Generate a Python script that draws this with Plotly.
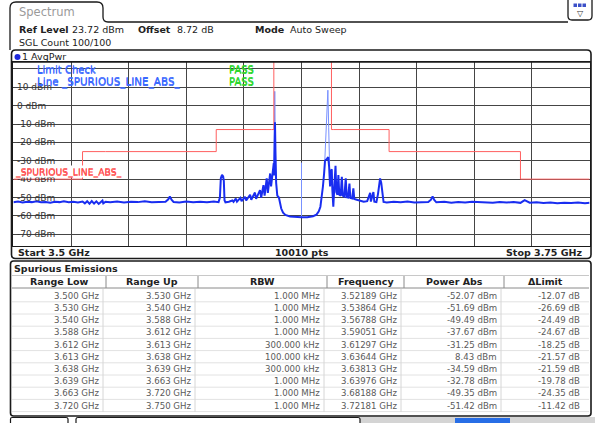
import plotly.graph_objects as go

W, H = 595, 423
FONT = "DejaVu Sans"

# ---------------- data ----------------
start_ghz = 3.5
stop_ghz = 3.75
ref_level_dbm = 23.72
bottom_dbm = -76.28
grid_dbm = [20, 10, 0, -10, -20, -30, -40, -50, -60, -70]
label_dbm = [10, 0, -10, -20, -30, -40, -50, -60, -70]

range_low_ghz = [3.500, 3.530, 3.540, 3.588, 3.612, 3.613, 3.638, 3.639, 3.663, 3.720]
range_up_ghz = [3.530, 3.540, 3.588, 3.612, 3.613, 3.638, 3.639, 3.663, 3.720, 3.750]
rbw_text = ["1.000 MHz", "1.000 MHz", "1.000 MHz", "1.000 MHz", "300.000 kHz",
            "100.000 kHz", "300.000 kHz", "1.000 MHz", "1.000 MHz", "1.000 MHz"]
peak_freq_ghz = [3.52189, 3.53864, 3.56788, 3.59051, 3.61297,
                 3.63644, 3.63813, 3.63976, 3.68188, 3.72181]
power_abs_dbm = [-52.07, -51.69, -49.49, -37.67, -31.25, 8.43, -34.59, -32.78, -49.35, -51.42]
delta_limit_db = [-12.07, -26.69, -24.49, -24.67, -18.25, -21.57, -21.59, -19.78, -24.35, -11.42]

# trace (dark part)
trace_ghz = [
    3.500, 3.502, 3.504, 3.506, 3.508, 3.510, 3.512, 3.514, 3.516, 3.518, 3.520, 3.52189, 3.524, 3.526, 3.528,
    3.530, 3.531, 3.532, 3.533, 3.534, 3.535, 3.536, 3.537, 3.53864, 3.539, 3.540,
    3.542, 3.545, 3.548, 3.551, 3.554, 3.557, 3.560, 3.563, 3.566, 3.5672, 3.56788, 3.5686, 3.5695,
    3.572, 3.575, 3.578, 3.581, 3.584, 3.587, 3.589, 3.5896, 3.5900, 3.59051, 3.5910, 3.5913, 3.5916,
    3.592, 3.5935, 3.5950, 3.5955, 3.5965, 3.5970, 3.5985, 3.5990, 3.6005, 3.6010, 3.6027, 3.6032,
    3.6048, 3.6053, 3.6070, 3.6075, 3.6085, 3.6090, 3.6099, 3.6104, 3.6114, 3.6118, 3.61297, 3.6131,
    3.6133, 3.6135, 3.6137, 3.6140, 3.6145, 3.6152, 3.6157, 3.6162, 3.6170, 3.6180, 3.6200, 3.6225,
    3.6250, 3.6275, 3.6300, 3.6315, 3.6325, 3.6332, 3.6338, 3.6343, 3.6348, 3.6352, 3.6360, 3.6366,
    3.6370, 3.6374, 3.6377, 3.63813, 3.6384, 3.6388, 3.6392, 3.63976, 3.6401, 3.6406, 3.6410, 3.6414,
    3.6420, 3.6425, 3.6429, 3.6436, 3.6442, 3.6446, 3.6452, 3.6458, 3.6462, 3.6470, 3.6475, 3.6479,
    3.6490, 3.6505, 3.6520, 3.6535, 3.6548, 3.6551, 3.6562, 3.6566, 3.6575, 3.6582, 3.6587, 3.6591,
    3.6596, 3.6601, 3.6606, 3.6620, 3.6650, 3.6680, 3.6710, 3.6740, 3.6770, 3.6800, 3.6812, 3.68188,
    3.6826, 3.6835, 3.6870, 3.6900, 3.6930, 3.6960, 3.6990, 3.7020, 3.7050, 3.7080, 3.7110, 3.7140,
    3.7170, 3.7200, 3.72181, 3.7240, 3.7270, 3.7300, 3.7330, 3.7360, 3.7390, 3.7420, 3.7450, 3.7480, 3.7500,
]
trace_dbm = [
    -52.6, -52.2, -52.7, -52.3, -52.5, -52.1, -52.6, -52.4, -52.8, -52.3, -52.5, -52.07, -52.6, -52.3, -52.7,
    -52.2, -53.2, -52.0, -53.4, -51.9, -53.3, -52.1, -53.5, -51.69, -53.2, -52.3,
    -52.6, -52.2, -52.7, -52.3, -52.5, -52.1, -52.6, -52.4, -52.3, -51.0, -49.49, -51.2, -52.4,
    -52.7, -52.2, -52.6, -52.3, -52.6, -52.2, -52.5, -50.0, -39.5, -37.67, -38.5, -41.0, -51.5,
    -52.6, -52.3, -51.6, -52.4, -50.6, -52.2, -50.2, -52.0, -49.6, -51.6, -48.5, -51.2,
    -47.3, -50.7, -46.0, -50.0, -43.3, -49.0, -39.6, -47.5, -36.9, -44.0, -31.25, -38.0,
    -20.0, -9.0, -25.0, -42.0, -49.0, -50.0, -53.0, -56.0, -58.3, -59.5, -60.3, -60.7,
    -60.8, -60.7, -60.2, -59.3, -57.5, -55.0, -50.0, -44.0, -37.0, -30.0, -29.0, -28.0,
    -33.5, -44.0, -36.0, -34.59, -46.0, -55.0, -45.0, -32.78, -47.0, -48.5, -37.8, -48.5,
    -49.0, -38.7, -49.0, -49.5, -39.6, -49.8, -50.0, -42.4, -50.2, -50.5, -45.0, -50.8,
    -51.2, -51.8, -52.3, -52.0, -47.5, -52.2, -47.0, -52.3, -52.5, -48.0, -42.0, -39.6,
    -42.0, -48.0, -52.4, -52.7, -52.3, -52.6, -52.2, -52.7, -52.4, -52.5, -51.2, -49.35,
    -51.3, -52.6, -52.3, -52.8, -52.4, -52.7, -52.3, -52.6, -52.5, -52.8, -52.4, -52.7,
    -52.5, -52.9, -51.42, -52.8, -52.6, -53.0, -52.7, -53.1, -52.8, -53.0, -52.7, -53.1, -52.9,
]
# narrow bright spikes (carriers and centre line), separated by None
spike_ghz = [3.6131, 3.6134, 3.6137, None, 3.6250, 3.6250, None, 3.6350, 3.6358, 3.63644, 3.6368, 3.6372]
spike_dbm = [-31.0, 7.8, -28.0, None, -60.5, -31.0, None, -33.0, -10.0, 8.43, -12.0, -33.0]

# limit line derived from table: limit = power - delta
limit_dbm = [p - d for p, d in zip(power_abs_dbm, delta_limit_db)]
limit_x = range_low_ghz + [range_up_ghz[-1]]
limit_y = limit_dbm + [limit_dbm[-1]]

sweep_points = 10010

# ---------------- helpers ----------------
def px(x):
    return x / W

def py(y):
    return 1 - y / H

shapes = []
annotations = []

def line(x0, y0, x1, y1, color="#1a1a1a", width=1, layer="above"):
    shapes.append(dict(type="line", xref="paper", yref="paper", x0=px(x0), y0=py(y0), x1=px(x1), y1=py(y1),
                       line=dict(color=color, width=width), layer=layer))

def rect(x0, y0, x1, y1, fill, color=None, width=0, layer="above"):
    shapes.append(dict(type="rect", xref="paper", yref="paper", x0=px(x0), y0=py(y0), x1=px(x1), y1=py(y1),
                       fillcolor=fill, line=dict(color=color or fill, width=width), layer=layer))

def path(points_cmds, color="#1a1a1a", width=1.5, fill=None, layer="above"):
    s = ""
    for cmd, pts in points_cmds:
        s += cmd
        s += " ".join(f"{px(a):.5f},{py(b):.5f}" for a, b in pts) + " "
    shapes.append(dict(type="path", xref="paper", yref="paper", path=s.strip(),
                       line=dict(color=color, width=width), fillcolor=fill, layer=layer))

def rrect(x0, y0, x1, y1, r, color="#1a1a1a", width=1.5, fill=None, layer="above"):
    path([("M", [(x0 + r, y0)]), ("L", [(x1 - r, y0)]), ("Q", [(x1, y0), (x1, y0 + r)]),
          ("L", [(x1, y1 - r)]), ("Q", [(x1, y1), (x1 - r, y1)]), ("L", [(x0 + r, y1)]),
          ("Q", [(x0, y1), (x0, y1 - r)]), ("L", [(x0, y0 + r)]), ("Q", [(x0, y0), (x0 + r, y0)]), ("Z", [])],
         color=color, width=width, fill=fill, layer=layer)

def txt(x, y, s, size=9.5, color="#222222", bold=False, xanchor="left", bg=None, shadow=None):
    font = dict(family=FONT, size=size, color=color)
    if shadow:
        font["shadow"] = shadow
    annotations.append(dict(x=px(x), y=py(y), xref="paper", yref="paper", text=f"<b>{s}</b>" if bold else s,
                            showarrow=False, xanchor=xanchor, yanchor="middle", bgcolor=bg, borderpad=0,
                            font=font))

# ---------------- plot geometry ----------------
PL, PR, PT, PB = 13.4, 589.6, 62.1, 245.8

fig = go.Figure()
fig.add_trace(go.Scatter(x=spike_ghz, y=spike_dbm, mode="lines", connectgaps=False,
                         line=dict(color="rgb(120,145,255)", width=1), hoverinfo="skip"))
fig.add_trace(go.Scatter(x=limit_x, y=limit_y, mode="lines", line_shape="hv",
                         line=dict(color="rgb(255,95,95)", width=1), hoverinfo="skip"))
fig.add_trace(go.Scatter(x=trace_ghz, y=trace_dbm, mode="lines",
                         line=dict(color="rgb(25,45,240)", width=2), hoverinfo="skip"))

# ---------------- top tab and header ----------------
path([("M", [(10, 50)]), ("L", [(10, 8)]), ("Q", [(10, 2), (16, 2)]), ("L", [(97, 2)]),
      ("Q", [(103, 2), (103, 8)]), ("L", [(103, 17)]), ("Q", [(103, 22), (108, 22)]), ("L", [(568, 22)])],
     width=1.3)
txt(18, 12, "Spectrum", size=11.5, color="#9a9a9a")
# icon box top right
path([("M", [(568, 0)]), ("L", [(568, 16)]), ("Q", [(568, 20), (572, 20)]), ("L", [(588, 20)]),
      ("Q", [(592, 20), (592, 16)]), ("L", [(592, 0)])], width=1.3)
for i in range(3):
    rect(573.5 + i * 4.5, 3.5, 577 + i * 4.5, 7, "rgb(60,80,200)")
txt(580, 13, "▽", size=8, color="#333333", xanchor="center")

txt(18, 30, "Ref Level", bold=True)
txt(71, 30, "23.72 dBm")
txt(137, 30, "Offset", bold=True)
txt(176, 30, "8.72 dB")
txt(254, 30, "Mode", bold=True)
txt(289, 30, "Auto Sweep")
txt(18, 42, "SGL Count 100/100")

# ---------------- diagram frame ----------------
rrect(11.5, 50, 591, 258.5, 4, width=1.6)
line(11.5, PT, 591, PT, width=1.2)
shapes.append(dict(type="circle", xref="paper", yref="paper", x0=px(14.5), y0=py(60), x1=px(20.5), y1=py(54),
                   fillcolor="rgb(30,40,220)", line=dict(color="rgb(30,40,220)", width=0)))
txt(21, 57, "1 AvgPwr")

# y tick labels: white boxes to interrupt grid, then text
for v in label_dbm:
    s = f"{v} dBm"
    yy = PT + (ref_level_dbm - v) / (ref_level_dbm - bottom_dbm) * (PB - PT)
    wlab = 5.1 * len(s) + 2
    shapes.append(dict(type="rect", xref="paper", yref="paper", x0=px(PL + 0.8), x1=px(16 + wlab),
                       y0=py(yy + 1.5), y1=py(yy - 1.5), fillcolor="white", line=dict(width=0), layer="between"))
    txt(16, yy, s, size=9, color="#333333")

# limit check texts
BLUE_TXT = "rgb(60,105,255)"
GREEN_TXT = "rgb(45,215,45)"
txt(36, 69.5, "Limit Check", size=10, color=BLUE_TXT, shadow=f"0px 0.6px 0px {BLUE_TXT}")
txt(36, 81.5, "Line _SPURIOUS_LINE_ABS_", size=10.4, color=BLUE_TXT,
    shadow=f"0px 0.6px 0px {BLUE_TXT}")
txt(228, 69.5, "PASS", size=10, color=GREEN_TXT, shadow=f"0px 0.6px 0px {GREEN_TXT}")
txt(228, 81.5, "PASS", size=10, color=GREEN_TXT, shadow=f"0px 0.6px 0px {GREEN_TXT}")
txt(13.5, 172.0, "_SPURIOUS_LINE_ABS_", size=9.3, color="rgb(255,80,80)", bg="white",
    shadow="0px 0.6px 0px rgb(255,80,80)")

# bottom bar of diagram
txt(17, 252.5, f"Start {start_ghz} GHz", bold=True)
txt(302, 252.5, f"{sweep_points} pts", bold=True, xanchor="center")
txt(584, 252.5, f"Stop {stop_ghz} GHz", bold=True, xanchor="right")

# ---------------- table ----------------
rrect(10.5, 261, 591, 416, 3, width=1.6)
txt(13, 268.5, "Spurious Emissions", bold=True)
cols = [12, 106, 198, 327, 404, 504, 587]
headers = ["Range Low", "Range Up", "RBW", "Frequency", "Power Abs", "ΔLimit"]
line(12, 275.5, 589, 275.5, color="#c8c8c8", width=1)
line(12, 288, 589, 288, color="#8a8a8a", width=1)
for c in cols[1:-1]:
    line(c, 276, c, 288, color="#8a8a8a", width=1)
for i, h in enumerate(headers):
    txt((cols[i] + cols[i + 1]) / 2, 281.5, h, bold=True, xanchor="center")

row_y0, row_h = 295.7, 12.2
for r in range(len(range_low_ghz)):
    yy = row_y0 + r * row_h
    line(12, yy + row_h / 2, 589, yy + row_h / 2, color="#e2e2e2", width=1)
    vals = [f"{range_low_ghz[r]:.3f} GHz", f"{range_up_ghz[r]:.3f} GHz", rbw_text[r],
            f"{peak_freq_ghz[r]:.5f} GHz", f"{power_abs_dbm[r]:.2f} dBm", f"{delta_limit_db[r]:.2f} dB"]
    for c, v in enumerate(vals):
        txt(cols[c + 1] - 6, yy, v, size=8.6, color="#5a5a5a", xanchor="right")
for c in cols[1:-1]:
    line(c - 3, 289, c - 3, 412, color="#d6d6d6", width=1)

# ---------------- bottom strip ----------------
rect(360, 417, 595, 423, "#d4d4d4")
rect(455, 418, 510, 423, "rgb(40,110,230)")
path([("M", [(10.5, 423)]), ("L", [(10.5, 419)]), ("Q", [(10.5, 417.5), (12, 417.5)]), ("L", [(66, 417.5)]),
      ("Q", [(68, 417.5), (68, 419)]), ("L", [(68, 423)])], width=1.2)
path([("M", [(76, 423)]), ("L", [(76, 419)]), ("Q", [(76, 417.5), (78, 417.5)]), ("L", [(358, 417.5)]),
      ("Q", [(360, 417.5), (360, 419)]), ("L", [(360, 423)])], width=1.2)

fig.update_layout(
    width=W, height=H, margin=dict(l=0, r=0, t=0, b=0, pad=0),
    paper_bgcolor="white", plot_bgcolor="white", showlegend=False,
    shapes=shapes, annotations=annotations,
    xaxis=dict(domain=[px(PL), px(PR)], range=[start_ghz, stop_ghz], dtick=0.025, tick0=start_ghz,
               showgrid=True, gridcolor="#454545", gridwidth=1, showticklabels=False, ticks="",
               zeroline=False, showline=True, mirror=True, linecolor="#1a1a1a", linewidth=1, fixedrange=True),
    yaxis=dict(domain=[py(PB), py(PT)], range=[bottom_dbm, ref_level_dbm], tickvals=grid_dbm,
               showgrid=True, gridcolor="#454545", gridwidth=1, showticklabels=False, ticks="",
               zeroline=False, showline=True, mirror=True, linecolor="#1a1a1a", linewidth=1, fixedrange=True),
)

fig.write_html("out.html", config={"displayModeBar": False},
               post_script="document.body.style.margin='0';document.body.style.padding='0';"
                           "document.body.style.overflow='hidden';")
